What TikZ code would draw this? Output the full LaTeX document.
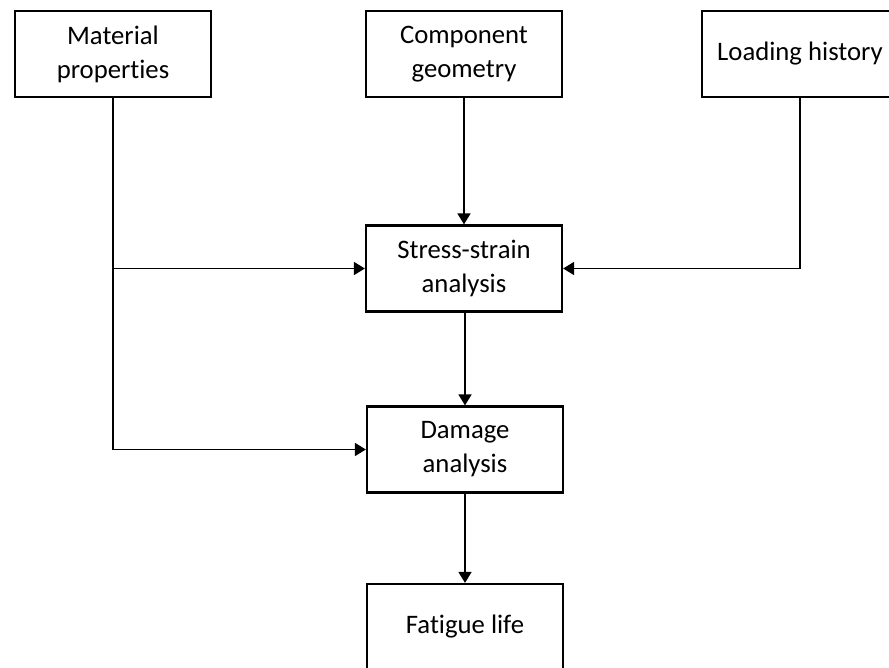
\documentclass[tikz,border=0pt]{standalone}
\usepackage{fontspec}
\setmainfont{Carlito}[Ligatures={NoCommon}]
\usetikzlibrary{arrows.meta}

\begin{document}
\begin{tikzpicture}[x=0.03cm, y=-0.03cm,
    block/.style={draw, line width=1.9pt, minimum width=5.88cm, minimum height=2.58cm,
      align=center, font=\fontsize{22.8}{29}\selectfont, inner sep=0pt},
    link/.style={line width=1.4pt, -{Triangle[length=0.33cm, width=0.39cm]}}]
    % page frame
    \clip (0,0) rectangle (889,668);

    % draw input boxes
    \node[block] (mat)  at (113,54) {Material\\properties};
    \node[block] (geo)  at (464,54) {Component\\geometry};
    \node[block] (load) at (800,54) {Loading history};

    % draw analysis boxes
    \node[block] (stress) at (464,268.5) {Stress-strain\\analysis};
    \node[block] (damage) at (465,449.5) {Damage\\analysis};
    \node[block] (life)   at (465,627)   {Fatigue life};

    % draw connectors
    \draw[link] (geo) -- (stress);
    \draw[link] (load) |- (stress);
    \draw[link] (mat) |- (damage);
    \coordinate (branch) at (mat |- stress);
    \draw[link] (branch) -- (stress);
    \draw[link] (stress.south -| damage) -- (damage);
    \draw[link] (damage) -- (life);
\end{tikzpicture}
\end{document}
